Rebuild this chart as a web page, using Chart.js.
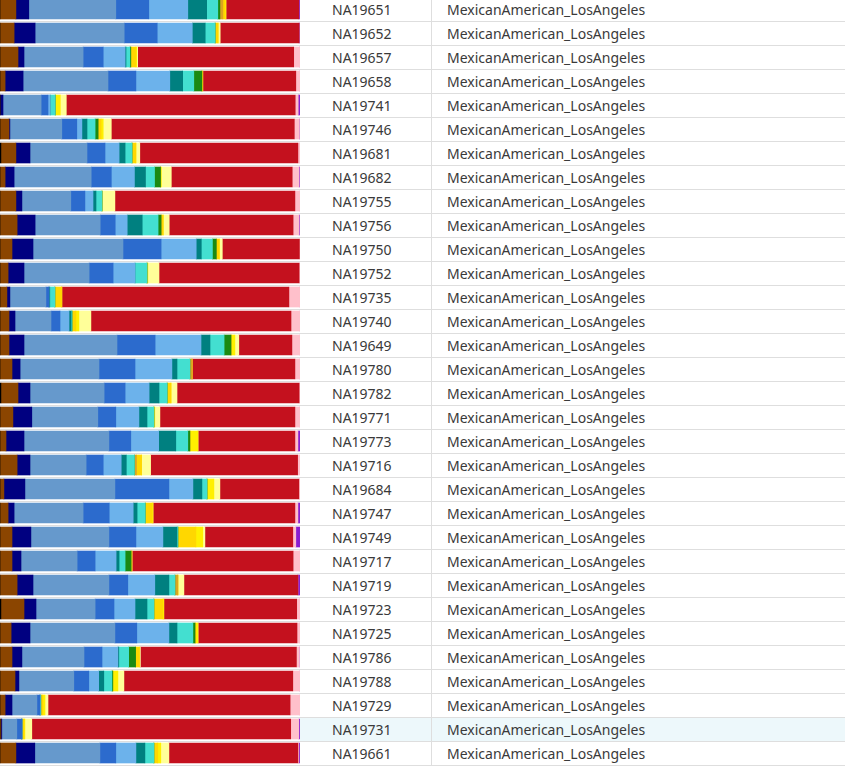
<!DOCTYPE html>
<html>
<head>
<meta charset="utf-8">
<script src="https://cdn.jsdelivr.net/npm/chart.js@4/dist/chart.umd.min.js"></script>
<style>
    html, body { margin: 0; padding: 0; background: #fff; overflow: hidden; }
    body { width: 845px; height: 767px; position: relative; font-family: 'Noto Sans', sans-serif; }
    #rows { position: absolute; left: 0; top: -2px; width: 845px; }
    .row { display: flex; height: 23px; border-bottom: 1px solid #dedede; }
    .row .spacer { width: 300px; flex: none; }
    .row .id { width: 99px; flex: none; padding-left: 32px; border-right: 1px solid #dedede; }
    .row .pop { flex: 1; padding-left: 15px; }
    .row .id, .row .pop { font-size: 14px; line-height: 24px; color: #3a3a3a; white-space: nowrap; }
    .row.hl .id, .row.hl .pop { background: #edf8fb; }
    #admix { position: absolute; left: 0; top: -3px; z-index: 2; }
</style>
</head>
<body>
<div id="rows"></div>
<canvas id="admix" width="300" height="768"></canvas>
<script>
// Samples (top to bottom)
const sampleIds = [
    'NA19651', 'NA19652', 'NA19657', 'NA19658', 'NA19741', 'NA19746', 'NA19681', 'NA19682',
    'NA19755', 'NA19756', 'NA19750', 'NA19752', 'NA19735', 'NA19740', 'NA19649', 'NA19780',
    'NA19782', 'NA19771', 'NA19773', 'NA19716', 'NA19684', 'NA19747', 'NA19749', 'NA19717',
    'NA19719', 'NA19723', 'NA19725', 'NA19786', 'NA19788', 'NA19729', 'NA19731', 'NA19661'
];
const populations = sampleIds.map(() => 'MexicanAmerican_LosAngeles');
const highlightedSample = 'NA19731';

// Ancestry components (% per sample, same order as sampleIds)
const black     = [0,0,0,0,0,0,0.3,0,0,0,0,0,0,0,0,0,0.3,0,0,0,0,0,0,0,0,0.3,0,0,0,0,0,0];
const brown     = [5.3,4.7,6,1.7,0,3,5,1.7,5.3,5.7,4,2.7,2.3,3,3,4,5.7,4.3,2,5.7,1.3,2.7,4,4,5.7,7.7,3.7,4,5,1.7,0.3,5.3];
const navy      = [4.3,7,2,6,1,0.3,4.7,3,2,6,7,5.3,1,2,5,2.7,4,6.3,6,4.3,7,2,6.3,3,5.3,4,6.3,3.3,1.3,2.3,0.3,6.3];
const steel     = [29,29.7,19.7,28.3,12.7,17.3,19,25.7,16.3,21.7,30,21.7,12,12,31,26.3,24.7,22,28.3,18.7,30,23,26,18.7,25.3,19.7,28.3,20.7,18.3,8.3,5,21.7];
const blue      = [11,11,6.7,9.3,2.3,5,6,6.7,4.7,5,12.7,8,1,3,12.7,12,7,6,7.3,5.7,18,8.7,9,6,6.3,6.3,7.3,6,5,1,1.7,5.3];
const skyBlue   = [13,11.7,7.3,11.3,0.7,1.7,4.7,7.7,2.7,4,11.7,7.3,0,3,15.3,12.3,8,7.7,9.3,6,8,8,9,7,9,7,10.7,5.3,3.3,0,0,6.7];
const teal      = [6.3,4.3,0.3,4.3,0,1.7,2,3.7,1,5,1.7,0,0.3,0.7,3,1.7,3.3,2.7,5.7,1.7,3,1.3,4.7,1,4.7,4,2.7,0.3,1.7,0,0,3];
const turquoise = [3.7,3.3,1.3,3.7,1.7,2.7,2.3,3,2,5.3,3.7,4,1.7,0.3,4.7,4.3,2.7,2.3,4,2.7,1.7,2.7,0.3,2,2,2.3,5.3,3.3,2.7,0.3,0,3];
const green     = [0.7,0,0.3,2.7,0,1,0,2,0,1,1.3,0,0,0,2.3,0,0,0,0.7,0,0,0,0,2,0,0,0.7,2.3,0.3,0,0,0];
const goldenrod = [1,0,0,0,0,0,0,0,0,0,0,0,0,0,0,0.7,0,0,0,0.7,0,0,0,0,1,0,0,0,0,0,0,0];
const gold      = [0.7,1,1.7,0,0,1,1.3,0,0,0.7,1,0,2.3,1.3,0,0,1.3,0,0,1.7,0,2.3,6,0,0,3,0.3,1.3,0,0.7,0.7,1.3];
const yellow    = [0.3,0,0.3,0.3,1.7,0.7,0,0.3,0,0,0,0.3,0,1,1.3,0,0,0.3,2.7,0,2.3,0.3,2.3,0.3,0,0.3,0.7,0,1.7,0.7,0.3,1];
const paleYellow= [0,0.7,0.3,0,2,2.7,1.3,3.3,4.3,2,1,3.7,0,4,1.3,0,2,1.7,0,3,2,0,0.7,0,2,0,0,0.3,2,1,2.3,2.7];
const red       = [24.3,26.3,52,31,76.3,61,52.7,40.3,60,41.3,25.7,46.7,75.7,66.7,17.7,34.3,40.7,45,32.3,49,26.3,47.3,29.3,53.7,38,44.3,33,52,56.3,80.7,86.3,43];
const pink      = [0,0,2,1.3,1,1.7,0.7,2.3,1.7,2,0.3,0.3,3.7,3,2.7,1.7,0.3,1.7,1,1,0.3,1,1,2.3,0,1,1,1,2.3,3.3,2.7,0.3];
const purple    = [0.3,0.3,0,0,0.7,0.3,0,0.3,0,0.3,0,0,0,0,0,0,0,0,0.7,0,0,0.7,1.3,0,0.7,0,0,0,0,0,0.3,0.3];

// Component order and colours, left to right
const components = [
    ['K1', black, '#000000'],
    ['K2', brown, '#8b4500'],
    ['K3', navy, '#000080'],
    ['K4', steel, '#6699cc'],
    ['K5', blue, '#2c6bcd'],
    ['K6', skyBlue, '#6cb2eb'],
    ['K7', teal, '#008080'],
    ['K8', turquoise, '#43dfd0'],
    ['K9', green, '#1b8a12'],
    ['K10', goldenrod, '#daa520'],
    ['K11', gold, '#ffd700'],
    ['K12', yellow, '#fff000'],
    ['K13', paleYellow, '#ffff99'],
    ['K14', red, '#c4111e'],
    ['K15', pink, '#ffc0cb'],
    ['K16', purple, '#8a1ecf']
];

// Table rows (ID / population) behind the chart
const rowsEl = document.getElementById('rows');
sampleIds.forEach((id, i) => {
    const row = document.createElement('div');
    row.className = 'row' + (id === highlightedSample ? ' hl' : '');
    row.innerHTML = `<div class="spacer"></div><div class="id">${id}</div><div class="pop">${populations[i]}</div>`;
    rowsEl.appendChild(row);
});

new Chart(document.getElementById('admix').getContext('2d'), {
    type: 'bar',
    data: {
        labels: sampleIds,
        datasets: components.map(([label, data, color]) => ({
            label: label,
            data: data,
            backgroundColor: color,
            borderWidth: 0,
            barThickness: 20
        }))
    },
    options: {
        indexAxis: 'y',
        responsive: false,
        animation: false,
        devicePixelRatio: 1,
        layout: { padding: 0 },
        scales: {
            x: { stacked: true, min: 0, max: 100, display: false },
            y: { stacked: true, display: false }
        },
        plugins: {
            legend: { display: false },
            tooltip: { enabled: false }
        }
    }
});
</script>
</body>
</html>
